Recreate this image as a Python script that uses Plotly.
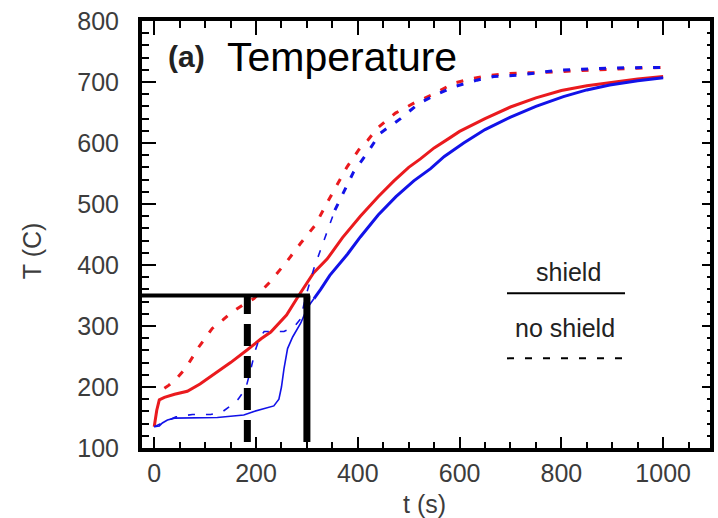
import plotly.graph_objects as go

# ---------------- data ----------------
t_red_shield = [0, 5, 10, 20, 40, 65, 90, 118, 150, 183, 210, 229, 260, 284, 300, 313, 340, 370, 405,
                440, 471, 500, 523, 550, 580, 600, 650, 700, 750, 800, 850, 900, 950, 1000]
T_red_shield = [135, 162, 179, 183, 188, 193, 205, 221, 240, 261, 279, 290, 318, 350, 370, 387, 410, 445, 480,
                512, 538, 560, 574, 592, 608, 619, 640, 659, 674, 686, 694, 700, 705, 709]

t_blue_shield = [0, 10, 16, 26, 40, 80, 124, 150, 176, 196, 215, 235, 245, 250, 255, 262, 272, 288, 301,
                 314, 327, 345, 380, 405, 440, 475, 510, 543, 570, 608, 650, 699, 750, 804, 850, 895, 950, 1000]
T_blue_shield = [135, 136, 141, 146, 149, 149, 150, 152, 154, 160, 164, 169, 180, 200, 230, 263, 282, 305, 330,
                 345, 360, 383, 418, 446, 482, 512, 538, 558, 578, 600, 622, 642, 660, 676, 687, 695, 702, 707]

t_red_noshield = [20, 29, 45, 62, 88, 114, 135, 150, 175, 196, 225, 240, 258, 288, 317, 337, 357, 379, 402,
                  420, 438, 474, 516, 549, 588, 627, 660, 699, 771, 869, 1000]
T_red_noshield = [198, 203, 215, 231, 266, 296, 310, 321, 335, 345, 370, 385, 403, 436, 466, 498, 528, 561, 589,
                  605, 624, 649, 668, 680, 698, 706, 711, 714, 716, 720, 724]

t_blue_noshield = [0, 20, 43, 75, 111, 135, 150, 165, 180, 190, 199, 207, 216, 235, 255, 275, 288, 294, 301,
                   314, 327, 343, 355, 373, 392, 418, 444, 484, 520, 556, 592, 634, 667, 712, 791, 895, 1000]
T_blue_noshield = [135, 143, 151, 155, 155, 160, 169, 180, 198, 230, 261, 280, 291, 291, 291, 299, 312, 335, 358,
                   395, 425, 462, 490, 520, 553, 583, 616, 640, 665, 680, 693, 703, 709, 711, 719, 723, 724]

# reference markers (black lines)
ref_time_solid = 300
ref_time_dashed = 183
ref_temperature = 350
ref_floor = 110

x_ticks = [0, 200, 400, 600, 800, 1000]
y_ticks = [100, 200, 300, 400, 500, 600, 700, 800]
x_range = [-24, 1092]
y_range = [100, 800]

RED = "#ea1a1e"
BLUE = "#1212e8"
FONT = "Liberation Sans, Arial, sans-serif"
GREY = "#3c3c3c"

fig = go.Figure()


def split(xs, ys, cut):
    a = [(x, y) for x, y in zip(xs, ys) if x <= cut]
    b = [(x, y) for x, y in zip(xs, ys) if x >= cut - 15]
    return ([p[0] for p in a], [p[1] for p in a]), ([p[0] for p in b], [p[1] for p in b])


# red solid (shield)
fig.add_trace(go.Scatter(x=t_red_shield, y=T_red_shield, mode="lines",
                         line=dict(color=RED, width=3), showlegend=False))
# blue solid (shield): thin early part, thick later
(bx1, by1), (bx2, by2) = split(t_blue_shield, T_blue_shield, 320)
fig.add_trace(go.Scatter(x=bx1, y=by1, mode="lines", line=dict(color=BLUE, width=1.6), showlegend=False))
fig.add_trace(go.Scatter(x=bx2, y=by2, mode="lines", line=dict(color=BLUE, width=3), showlegend=False))
# red dashed (no shield)
fig.add_trace(go.Scatter(x=t_red_noshield, y=T_red_noshield, mode="lines",
                         line=dict(color=RED, width=3, dash="7px,11px"), showlegend=False))
# blue dashed (no shield)
(cx1, cy1), (cx2, cy2) = split(t_blue_noshield, T_blue_noshield, 360)
fig.add_trace(go.Scatter(x=cx1, y=cy1, mode="lines", line=dict(color=BLUE, width=1.6, dash="7px,11px"),
                         showlegend=False))
fig.add_trace(go.Scatter(x=cx2, y=cy2, mode="lines", line=dict(color=BLUE, width=3, dash="7px,11px"),
                         showlegend=False))

# black reference lines
fig.add_trace(go.Scatter(x=[x_range[0], ref_time_solid + 6], y=[ref_temperature, ref_temperature], mode="lines",
                         line=dict(color="black", width=4), showlegend=False))
fig.add_trace(go.Scatter(x=[ref_time_solid, ref_time_solid], y=[ref_floor, ref_temperature], mode="lines",
                         line=dict(color="black", width=7), showlegend=False))
fig.add_trace(go.Scatter(x=[ref_time_dashed, ref_time_dashed], y=[ref_floor, ref_temperature], mode="lines",
                         line=dict(color="black", width=7, dash="22px,10px"), showlegend=False))

# invisible traces to activate the mirrored axes
fig.add_trace(go.Scatter(x=x_range, y=y_range, xaxis="x2", yaxis="y2", mode="lines",
                         line=dict(width=0), hoverinfo="skip", showlegend=False))

axis_common = dict(showgrid=False, zeroline=False, showline=True, linecolor="black", linewidth=4,
                   ticks="inside", tickcolor="black", tickwidth=2)

fig.update_layout(
    width=718, height=518,
    margin=dict(l=142, r=8, t=21, b=70),
    paper_bgcolor="white", plot_bgcolor="white",
    font=dict(family=FONT, color=GREY, size=25),
    xaxis=dict(range=x_range, tickvals=x_ticks, ticklen=11, ticklabelstandoff=0,
               tickfont=dict(size=25, color=GREY),
               minor=dict(dtick=50, ticklen=6, tickcolor="black", tickwidth=2, ticks="inside"),
               **axis_common),
    xaxis2=dict(range=x_range, overlaying="x", side="top", tickvals=x_ticks, ticklen=14, showticklabels=False,
                minor=dict(dtick=50, ticklen=7, tickcolor="black", tickwidth=2, ticks="inside"),
                **axis_common),
    yaxis=dict(range=y_range, tickvals=y_ticks, ticklen=14, ticklabelstandoff=14,
               tickfont=dict(size=25, color=GREY),
               minor=dict(dtick=20, ticklen=7, tickcolor="black", tickwidth=2, ticks="inside"),
               **axis_common),
    yaxis2=dict(range=y_range, overlaying="y", side="right", tickvals=y_ticks, ticklen=8, showticklabels=False,
                minor=dict(dtick=20, ticklen=3, tickcolor="black", tickwidth=2, ticks="inside"),
                **axis_common),
)

# texts
fig.add_annotation(text="<b>(a)</b>", xref="paper", yref="paper", x=0.079, y=0.918,
                   showarrow=False, font=dict(size=30, color="#222222", family=FONT),
                   xanchor="center", yanchor="middle")
fig.add_annotation(text="Temperature", xref="paper", yref="paper", x=0.146, y=0.915,
                   showarrow=False, font=dict(size=41, color="black", family=FONT),
                   xanchor="left", yanchor="middle")
fig.add_annotation(text="t (s)", xref="paper", yref="paper", x=0.4965, y=-0.131,
                   showarrow=False, font=dict(size=25, color=GREY, family=FONT),
                   xanchor="center", yanchor="middle")
fig.add_annotation(text="T (C)", xref="paper", yref="paper", x=-0.1937, y=0.461, textangle=-90,
                   showarrow=False, font=dict(size=25, color=GREY, family=FONT),
                   xanchor="center", yanchor="middle")

# key
fig.add_annotation(text="shield", xref="paper", yref="paper", x=0.75, y=0.412,
                   showarrow=False, font=dict(size=25, color="#222222", family=FONT),
                   xanchor="center", yanchor="middle")
fig.add_shape(type="line", xref="paper", yref="paper", x0=0.6426, x1=0.8504, y0=0.3623, y1=0.3623,
              line=dict(color="black", width=2))
fig.add_annotation(text="no shield", xref="paper", yref="paper", x=0.7447, y=0.281,
                   showarrow=False, font=dict(size=25, color="#222222", family=FONT),
                   xanchor="center", yanchor="middle")
fig.add_shape(type="line", xref="paper", yref="paper", x0=0.6426, x1=0.8504, y0=0.21, y1=0.21,
              line=dict(color="black", width=2, dash="7px,11px"))

fig.write_html("out.html")
